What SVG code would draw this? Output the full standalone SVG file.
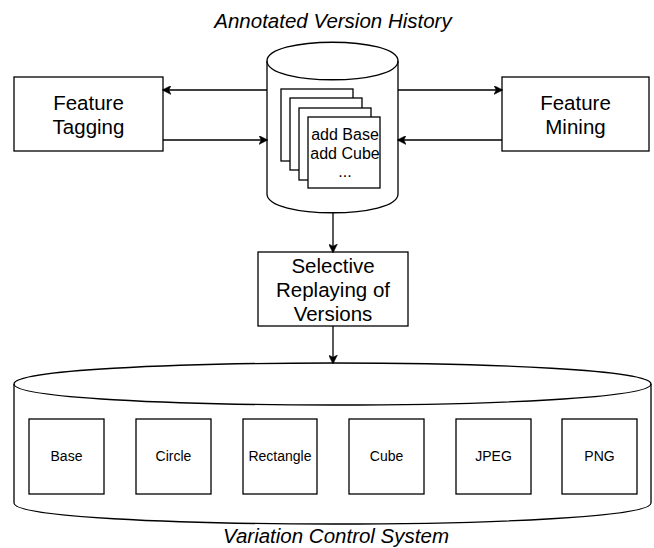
<svg xmlns="http://www.w3.org/2000/svg" width="654" height="548" viewBox="0 0 654 548">
  <style>
    .shape { fill: #ffffff; stroke: #000000; stroke-width: 1.3; }
    .edge { fill: none; stroke: #000000; stroke-width: 1.3; }
    .lbl { font-family: "Liberation Sans", Arial, Helvetica, sans-serif; fill: #000000; text-anchor: middle; }
    .big { font-size: 20.5px; }
    .mid { font-size: 16px; }
    .small { font-size: 14px; }
    .cap { font-size: 20.5px; font-style: italic; }
  </style>
  <defs>
    <marker id="arrow" viewBox="0 0 10 10" refX="9" refY="5" markerWidth="9" markerHeight="9" markerUnits="userSpaceOnUse" orient="auto">
      <path d="M0,0 L10,5 L0,10 L2.5,5 Z" fill="#000000" stroke="#000000" stroke-width="0.5"/>
    </marker>
  </defs>
  <rect width="654" height="548" fill="#ffffff"/>

  <!-- annotated version history store -->
  <g id="history">
    <path class="shape" d="M267,61 C267,36 398,36 398,61 L398,194 C398,219 267,219 267,194 Z"/>
    <path class="edge" d="M267,61 C267,86 398,86 398,61"/>
    <rect class="shape" x="281" y="89" width="72" height="72"/>
    <rect class="shape" x="290" y="98" width="72" height="72"/>
    <rect class="shape" x="299" y="108" width="72" height="72"/>
    <rect class="shape" x="308" y="117" width="72" height="71"/>
    <text class="lbl mid" x="345" y="140">add Base</text>
    <text class="lbl mid" x="345" y="159">add Cube</text>
    <text class="lbl mid" x="345" y="177">...</text>
    <text class="lbl cap" x="333" y="28">Annotated Version History</text>
  </g>

  <g id="feature-tagging">
    <rect class="shape" x="14" y="77" width="149" height="74"/>
    <text class="lbl big" x="88.5" y="110">Feature</text>
    <text class="lbl big" x="88.5" y="134">Tagging</text>
  </g>

  <g id="feature-mining">
    <rect class="shape" x="502" y="77" width="147" height="74"/>
    <text class="lbl big" x="575.5" y="110">Feature</text>
    <text class="lbl big" x="575.5" y="134">Mining</text>
  </g>

  <g id="replay">
    <rect class="shape" x="258" y="252" width="150" height="74"/>
    <text class="lbl big" x="333" y="273">Selective</text>
    <text class="lbl big" x="333" y="297">Replaying of</text>
    <text class="lbl big" x="333" y="321">Versions</text>
  </g>

  <!-- variation control system store -->
  <g id="vcs">
    <path class="shape" d="M14,384 C14,356 651,356 651,384 L651,503 C651,531 14,531 14,503 Z"/>
    <path class="edge" d="M14,384 C14,412 651,412 651,384"/>
    <text class="lbl cap" x="336" y="543" font-size="21">Variation Control System</text>
  </g>
  <g id="feat-base">
    <rect class="shape" x="29" y="419" width="75" height="75"/>
    <text class="lbl small" x="66.5" y="461">Base</text>
  </g>
  <g id="feat-circle">
    <rect class="shape" x="136" y="419" width="75" height="75"/>
    <text class="lbl small" x="173.5" y="461">Circle</text>
  </g>
  <g id="feat-rectangle">
    <rect class="shape" x="243" y="419" width="74" height="75"/>
    <text class="lbl small" x="280" y="461">Rectangle</text>
  </g>
  <g id="feat-cube">
    <rect class="shape" x="349" y="419" width="75" height="75"/>
    <text class="lbl small" x="386.5" y="461">Cube</text>
  </g>
  <g id="feat-jpeg">
    <rect class="shape" x="456" y="419" width="75" height="75"/>
    <text class="lbl small" x="493.5" y="461">JPEG</text>
  </g>
  <g id="feat-png">
    <rect class="shape" x="562" y="419" width="75" height="75"/>
    <text class="lbl small" x="599.5" y="461">PNG</text>
  </g>

  <g id="connectors">
    <path class="edge" d="M267,90 L163,90" marker-end="url(#arrow)"/>
    <path class="edge" d="M163,140 L267,140" marker-end="url(#arrow)"/>
    <path class="edge" d="M398,90 L502,90" marker-end="url(#arrow)"/>
    <path class="edge" d="M502,140 L398,140" marker-end="url(#arrow)"/>
    <path class="edge" d="M333,213 L333,252" marker-end="url(#arrow)"/>
    <path class="edge" d="M333,326 L333,363" marker-end="url(#arrow)"/>
  </g>
</svg>
